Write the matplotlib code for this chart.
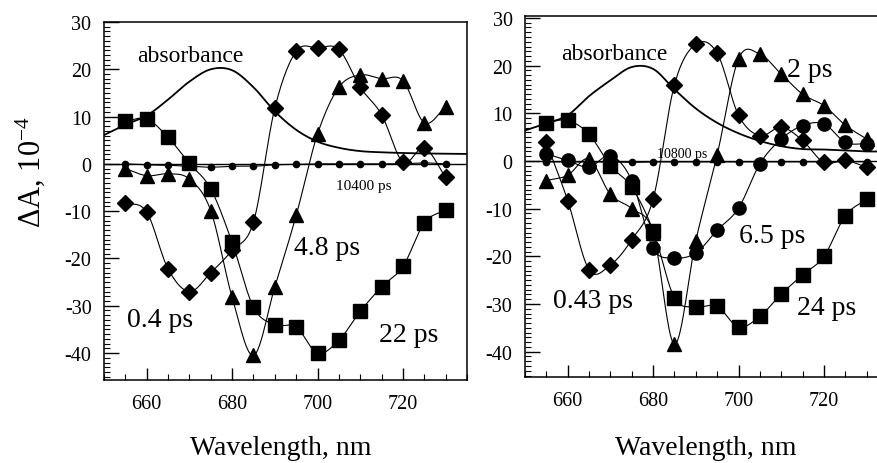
import numpy as np
import matplotlib
matplotlib.use("Agg")
import matplotlib.pyplot as plt
from matplotlib.ticker import MultipleLocator

plt.rcParams['font.family'] = ['Liberation Serif', 'DejaVu Serif']
plt.rcParams['mathtext.fontset'] = 'custom'
plt.rcParams['mathtext.rm'] = 'Liberation Serif'
plt.rcParams['mathtext.it'] = 'Liberation Serif:italic'
plt.rcParams['axes.unicode_minus'] = False

# ---- data: transient difference spectra, ΔA in units of 1e-4 ----
wavelength = [655, 660, 665, 670, 675, 680, 685, 690, 695, 700, 705, 710, 715, 720, 725, 730]
abs_wl = [650, 655, 660, 665, 670, 675, 680, 685, 690, 695, 700, 705, 710, 715, 720, 725, 730, 735]

# left panel
left_0p4ps = [-8.2, -10.2, -22.2, -27.0, -23.0, -18.3, -12.3, 11.8, 23.8, 24.5, 24.2, 16.2, 10.4, 0.4, 3.4, -2.8]
left_4p8ps = [-1.0, -2.5, -2.1, -3.2, -9.9, -28.2, -40.5, -26.0, -10.9, 6.3, 16.2, 18.8, 18.0, 17.6, 8.7, 12.0]
left_22ps = [9.0, 9.5, 5.6, 0.1, -5.3, -16.6, -30.3, -34.0, -34.5, -40.0, -37.3, -31.2, -26.0, -21.7, -12.5, -9.7]
left_10400ps = [0.0, -0.2, -0.3, -0.5, -0.7, -0.5, -0.5, -0.2, -0.1, 0.0, 0.0, 0.0, 0.0, 0.0, 0.2, 0.0]
left_absorbance = [6.1, 8.3, 10.2, 13.6, 17.4, 20.0, 19.8, 16.2, 11.1, 7.2, 4.7, 3.4, 2.7, 2.45, 2.3, 2.2, 2.15, 2.1]

# right panel
right_0p43ps = [3.9, -8.3, -22.8, -21.8, -16.5, -8.0, 16.0, 24.5, 22.6, 9.6, 5.3, 7.1, 4.3, -0.3, 0.1, -1.3]
right_2ps = [-4.1, -3.0, 0.4, -7.0, -10.0, -15.0, -38.4, -16.7, 1.3, 21.4, 22.4, 18.2, 14.0, 11.6, 7.5, 4.6]
right_6p5ps = [1.5, 0.1, -1.3, 1.1, -4.1, -18.3, -20.3, -19.3, -14.5, -9.9, -0.6, 4.6, 7.4, 7.8, 3.9, 3.6]
right_24ps = [8.0, 8.5, 5.6, -1.0, -5.5, -14.6, -28.7, -30.6, -30.5, -34.8, -32.6, -27.9, -23.9, -20.0, -11.5, -8.0]
right_10800ps = [-0.2, -0.2, -0.2, -0.2, -0.3, -0.2, -0.2, -0.2, -0.2, -0.2, -0.2, -0.2, -0.2, -0.2, -0.1, -0.2]
right_absorbance = [6.4, 7.9, 9.6, 13.6, 16.9, 19.7, 19.3, 15.0, 11.0, 8.0, 5.8, 4.2, 3.1, 2.5, 2.4, 2.2, 2.0, 2.0]


def catmull_rom(x, y, n=24):
    """Smooth curve through the points (uniform Catmull-Rom)."""
    x = np.asarray(x, float)
    y = np.asarray(y, float)
    py = np.concatenate([[2 * y[0] - y[1]], y, [2 * y[-1] - y[-2]]])
    t = np.linspace(0, 1, n, endpoint=False)
    xs, ys = [], []
    for i in range(len(x) - 1):
        p0, p1, p2, p3 = py[i:i + 4]
        seg = 0.5 * ((2 * p1) + (-p0 + p2) * t + (2 * p0 - 5 * p1 + 4 * p2 - p3) * t ** 2
                     + (-p0 + 3 * p1 - 3 * p2 + p3) * t ** 3)
        xs.append(x[i] + (x[i + 1] - x[i]) * t)
        ys.append(seg)
    xs.append([x[-1]])
    ys.append([y[-1]])
    return np.concatenate(xs), np.concatenate(ys)


def series(ax, x, y, marker, ms):
    sx, sy = catmull_rom(x, y)
    ax.plot(sx, sy, color='black', lw=0.8, zorder=2)
    ax.plot(x, y, linestyle='none', marker=marker, ms=ms, color='black',
            markeredgecolor='black', zorder=3)


def style_axes(ax, ylim):
    ax.set_xlim(650, 735)
    ax.set_ylim(*ylim)
    ax.xaxis.set_major_locator(MultipleLocator(20))
    ax.xaxis.set_minor_locator(MultipleLocator(5))
    ax.yaxis.set_major_locator(MultipleLocator(10))
    ax.yaxis.set_minor_locator(MultipleLocator(1))
    ax.tick_params(axis='y', which='major', direction='in', length=11, width=1,
                   labelsize=14.5, pad=9, left=True, right=False)
    ax.tick_params(axis='y', which='minor', direction='in', length=4.5, width=0.8,
                   left=True, right=False)
    ax.tick_params(axis='x', which='major', direction='in', length=9, width=1,
                   labelsize=14.5, pad=10, bottom=True, top=False)
    ax.tick_params(axis='x', which='minor', direction='in', length=4.5, width=0.8,
                   bottom=True, top=False)
    for s in ax.spines.values():
        s.set_linewidth(1.1)
    ax.axhline(0, color='black', lw=1.0, zorder=1)


W, H = 877, 464
fig = plt.figure(figsize=(W / 100, H / 100), dpi=100)

axL = fig.add_axes([104 / W, 1 - 381 / H, 363 / W, 358 / H])
axR = fig.add_axes([525 / W, 1 - 378 / H, 363 / W, 361 / H])

style_axes(axL, (-45.7, 30.0))
style_axes(axR, (-45.3, 30.4))

# left panel
ax_abs_x, ax_abs_y = catmull_rom(abs_wl, left_absorbance)
axL.plot(ax_abs_x, ax_abs_y, color='black', lw=1.3, zorder=2)
series(axL, wavelength, left_10400ps, 'o', 4.5)
series(axL, wavelength, left_0p4ps, 'D', 8.5)
series(axL, wavelength, left_4p8ps, '^', 10.5)
series(axL, wavelength, left_22ps, 's', 9.5)

axL.text(657.8, 21.7, 'absorbance', fontsize=17, ha='left', va='baseline')
axL.text(655.3, -34.2, '0.4 ps', fontsize=20, ha='left', va='baseline')
axL.text(694.5, -19.0, '4.8 ps', fontsize=20, ha='left', va='baseline')
axL.text(714.3, -37.4, '22 ps', fontsize=20, ha='left', va='baseline')
axL.text(704.4, -5.3, '10400 ps', fontsize=11, ha='left', va='baseline')

# right panel
ar_abs_x, ar_abs_y = catmull_rom(abs_wl, right_absorbance)
axR.plot(ar_abs_x, ar_abs_y, color='black', lw=1.3, zorder=2)
series(axR, wavelength, right_10800ps, 'o', 4.5)
series(axR, wavelength, right_0p43ps, 'D', 8.5)
series(axR, wavelength, right_2ps, '^', 10.5)
series(axR, wavelength, right_6p5ps, 'o', 9.5)
series(axR, wavelength, right_24ps, 's', 9.5)

axR.text(658.4, 21.4, 'absorbance', fontsize=17, ha='left', va='baseline')
axR.text(680.8, 0.8, '10800 ps', fontsize=10, ha='left', va='baseline')
axR.text(711.4, 17.9, '2 ps', fontsize=20, ha='left', va='baseline')
axR.text(656.6, -30.7, '0.43 ps', fontsize=20, ha='left', va='baseline')
axR.text(700.2, -17.0, '6.5 ps', fontsize=20, ha='left', va='baseline')
axR.text(713.6, -32.1, '24 ps', fontsize=20, ha='left', va='baseline')

# axis titles
fig.text(281 / W, 1 - 455 / H, 'Wavelength, nm', fontsize=20, ha='center', va='baseline')
fig.text(706 / W, 1 - 455 / H, 'Wavelength, nm', fontsize=20, ha='center', va='baseline')
fig.text(30 / W, 1 - 172 / H, r'ΔA, 10$^{-4}$', fontsize=22, rotation=90,
         ha='center', va='center')

fig.savefig('out.png', dpi=100)
